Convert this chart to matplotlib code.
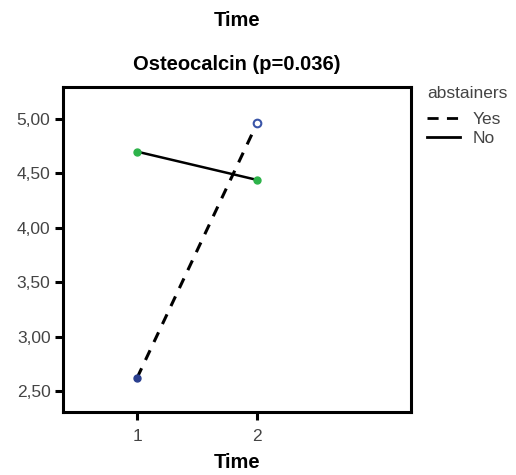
import matplotlib
matplotlib.use("Agg")
import matplotlib.pyplot as plt
from matplotlib.lines import Line2D

plt.rcParams['font.family'] = ['Liberation Sans', 'DejaVu Sans']

times = [1, 2]
yes_values = [2.62, 4.96]
no_values = [4.70, 4.44]
y_ticks = [2.50, 3.00, 3.50, 4.00, 4.50, 5.00]
y_tick_labels = ["2,50", "3,00", "3,50", "4,00", "4,50", "5,00"]
x_ticks = [1, 2]

fig = plt.figure(figsize=(5.16, 4.75), dpi=100)
ax = fig.add_axes([63/516, 1-412/475, (411-63)/516, (412-87)/475])

ax.plot(times, yes_values, color='black', linestyle=(0, (3.5, 3)), linewidth=2.2, zorder=2)
ax.plot(times, no_values, color='black', linestyle='-', linewidth=1.8, zorder=2)
ax.plot([times[0]], [yes_values[0]], 'o', color='#2a3f8f', markersize=5, zorder=3)
ax.plot([times[1]], [yes_values[1]], 'o', markerfacecolor='white', markeredgecolor='#3a55a8',
        markeredgewidth=1.5, markersize=5.5, zorder=3)
ax.plot(times, no_values, 'o', color='#2db34a', markersize=5, zorder=3)

ax.set_xlim(0.383, 3.283)
ax.set_ylim(2.307, 5.294)
ax.set_xticks(x_ticks)
ax.set_xticklabels([str(t) for t in x_ticks], fontsize=12.5, color='#444444')
ax.set_yticks(y_ticks)
ax.set_yticklabels(y_tick_labels, fontsize=12.5, color='#444444')
ax.tick_params(width=2.2, length=6, direction='out', pad=3)
ax.tick_params(axis='x', pad=6.5)
for s in ax.spines.values():
    s.set_linewidth(2.2)

ax.set_xlabel("Time", fontsize=14.5, fontweight='bold', labelpad=6)
ax.set_title("Osteocalcin (p=0.036)", fontsize=14.5, fontweight='bold', pad=12)
fig.text((63+411)/2/516, 1-20/475, "Time", fontsize=14.5, fontweight='bold',
         ha='center', va='center')

handles = [Line2D([0], [0], color='black', linestyle=(0, (4, 3)), linewidth=2),
           Line2D([0], [0], color='black', linestyle='-', linewidth=2)]
leg = fig.legend(handles, ["Yes", "No"], title="abstainers", loc='upper left',
                 bbox_to_anchor=(427/516, 1-86/475), frameon=False, fontsize=12.5,
                 title_fontsize=12.5, handlelength=1.9, handletextpad=0.7,
                 labelspacing=0.2, borderaxespad=0, borderpad=0)
leg._legend_box.align = "left"
leg._legend_box.sep = 8
for t in leg.get_texts():
    t.set_color('#444444')
leg.get_title().set_color('#444444')

fig.savefig("out.png", dpi=100)
